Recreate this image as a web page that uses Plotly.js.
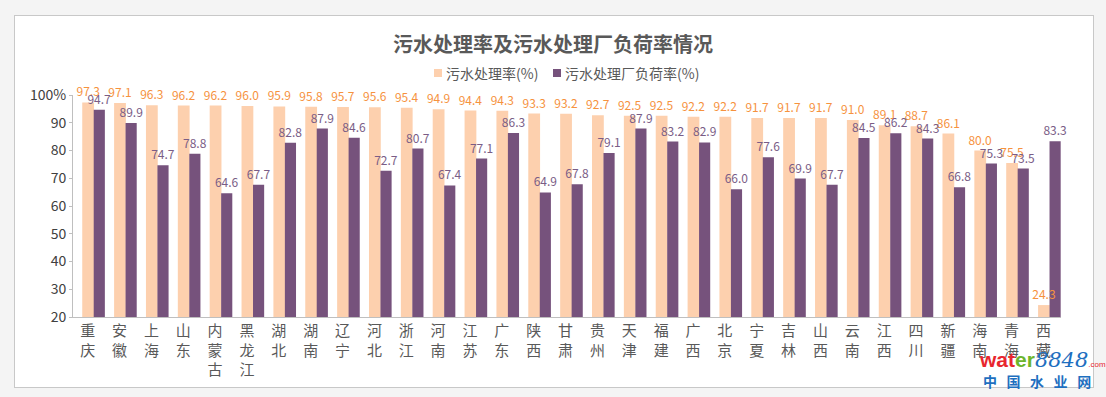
<!DOCTYPE html>
<html><head><meta charset="utf-8">
<script src="https://cdn.plot.ly/plotly-3.0.1.min.js"></script>
<style>
html,body{margin:0;padding:0;background:#f4f4f4;}
#wrap{position:relative;width:1106px;height:397px;}
#panel{position:absolute;left:14px;top:15px;width:1080px;height:373px;background:#fff;border:1px solid #c8c8c8;box-sizing:border-box;}
#chart{position:absolute;left:0;top:0;width:1106px;height:397px;}
</style></head>
<body><div id="wrap"><div id="panel"></div><div id="chart"></div></div>
<script>
const provinces = ["重庆","安徽","上海","山东","内蒙古","黑龙江","湖北","湖南","辽宁","河北","浙江","河南","江苏","广东","陕西","甘肃","贵州","天津","福建","广西","北京","宁夏","吉林","山西","云南","江西","四川","新疆","海南","青海","西藏"];
const treatRate = [97.3,97.1,96.3,96.2,96.2,96.0,95.9,95.8,95.7,95.6,95.4,94.9,94.4,94.3,93.3,93.2,92.7,92.5,92.5,92.2,92.2,91.7,91.7,91.7,91.0,89.1,88.7,86.1,80.0,75.5,24.3];
const loadRate = [94.7,89.9,74.7,78.8,64.6,67.7,82.8,87.9,84.6,72.7,80.7,67.4,77.1,86.3,64.9,67.8,79.1,87.9,83.2,82.9,66.0,77.6,69.9,67.7,84.5,86.2,84.3,66.8,75.3,73.5,83.3];
const yTicks = [20,30,40,50,60,70,80,90,100];
const yTickText = ["20","30","40","50","60","70","80","90","100%"];
const seriesNames = ["污水处理率(%)","污水处理厂负荷率(%)"];
const seriesColors = ["#fdd0ae","#76527c"];
const labelColors = ["#f6923e","#7a5d86"];

const idx = provinces.map((_, i) => i);
const catLabels = provinces.map(p => p.split("").join("<br>"));
const font = "Noto Sans CJK SC, sans-serif";

const oW = 0.37, pW = 0.35;
function barTrace(y, k, withText) {
  const t = {type:"bar", x:idx, y:y, width:k===0?oW:pW, offset:k===0?-oW:-0.01,
    showlegend:false, hoverinfo:"skip",
    marker:{color: withText ? "rgba(0,0,0,0)" : seriesColors[k], line:{width:0}}};
  if (withText) {
    t.text = y.map(v => v.toFixed(1));
    t.textposition = "outside"; t.constraintext = "none"; t.cliponaxis = false;
    t.textfont = {color:labelColors[k], size:12, family:font};
  }
  return t;
}
const traces = [
  barTrace(treatRate, 0, false), barTrace(loadRate, 1, false),
  barTrace(treatRate, 0, true), barTrace(loadRate, 1, true)
];

const legendY = (317-73)/222;
const layout = {
  width:1106, height:397,
  paper_bgcolor:"rgba(0,0,0,0)", plot_bgcolor:"rgba(0,0,0,0)",
  margin:{l:73, r:45, t:95, b:80},
  font:{family:font, color:"#404040"},
  title:{text:"<b>污水处理率及污水处理厂负荷率情况</b>", x:553/1106, xanchor:"center", y:1-45/397, yanchor:"middle",
         font:{size:20, color:"#595959", family:font}},
  barmode:"overlay",
  showlegend:false,
  xaxis:{range:[-0.66,30.35], tickvals:idx.map(i => i - 0.2), ticktext:catLabels,
         showline:true, linecolor:"#bfbfbf", linewidth:1, ticks:"", showgrid:false, zeroline:false,
         tickfont:{size:15, color:"#595959", family:font}, tickangle:0, fixedrange:true},
  yaxis:{range:[20,100], tickvals:yTicks, ticktext:yTickText, showline:true, linecolor:"#bfbfbf", linewidth:1,
         ticks:"outside", ticklen:3, tickcolor:"#bfbfbf", showgrid:false, zeroline:false,
         tickfont:{size:14, color:"#404040", family:font}, fixedrange:true},
  shapes:[
    {type:"rect", xref:"paper", yref:"paper", x0:(434-73)/988, x1:(442-73)/988, y0:legendY-4/222, y1:legendY+4/222,
     fillcolor:seriesColors[0], line:{width:0}},
    {type:"rect", xref:"paper", yref:"paper", x0:(553-73)/988, x1:(561-73)/988, y0:legendY-4/222, y1:legendY+4/222,
     fillcolor:seriesColors[1], line:{width:0}}
  ],
  annotations:[
    {xref:"paper", yref:"paper", x:(444-73)/988, y:legendY, xanchor:"left", yanchor:"middle", showarrow:false,
     text:seriesNames[0], font:{size:14, color:"#595959", family:font}},
    {xref:"paper", yref:"paper", x:(563-73)/988, y:legendY, xanchor:"left", yanchor:"middle", showarrow:false,
     text:seriesNames[1], font:{size:14, color:"#595959", family:font}},
    {xref:"paper", yref:"paper", x:(977-73)/988, y:(317-360)/222, xanchor:"left", yanchor:"middle", showarrow:false,
     text:"<b><span style='color:#e8262e'>wat</span><span style='color:#6cb52d'>er</span></b><i><span style='color:#1e6fc0;font-family:DejaVu Serif'>8848</span></i><span style='color:#e8262e;font-size:8px'>.com</span>",
     font:{size:21, family:"Liberation Sans, sans-serif"}},
    {xref:"paper", yref:"paper", x:(1037-73)/988, y:(317-381)/222, xanchor:"center", yanchor:"middle", showarrow:false,
     text:"<b>中&nbsp;&nbsp;&nbsp;国&nbsp;&nbsp;&nbsp;水&nbsp;&nbsp;&nbsp;业&nbsp;&nbsp;&nbsp;网</b>", font:{size:14, color:"#1e6fc0", family:font}}
  ]
};
Plotly.newPlot("chart", traces, layout, {displayModeBar:false, staticPlot:true});
</script></body></html>
